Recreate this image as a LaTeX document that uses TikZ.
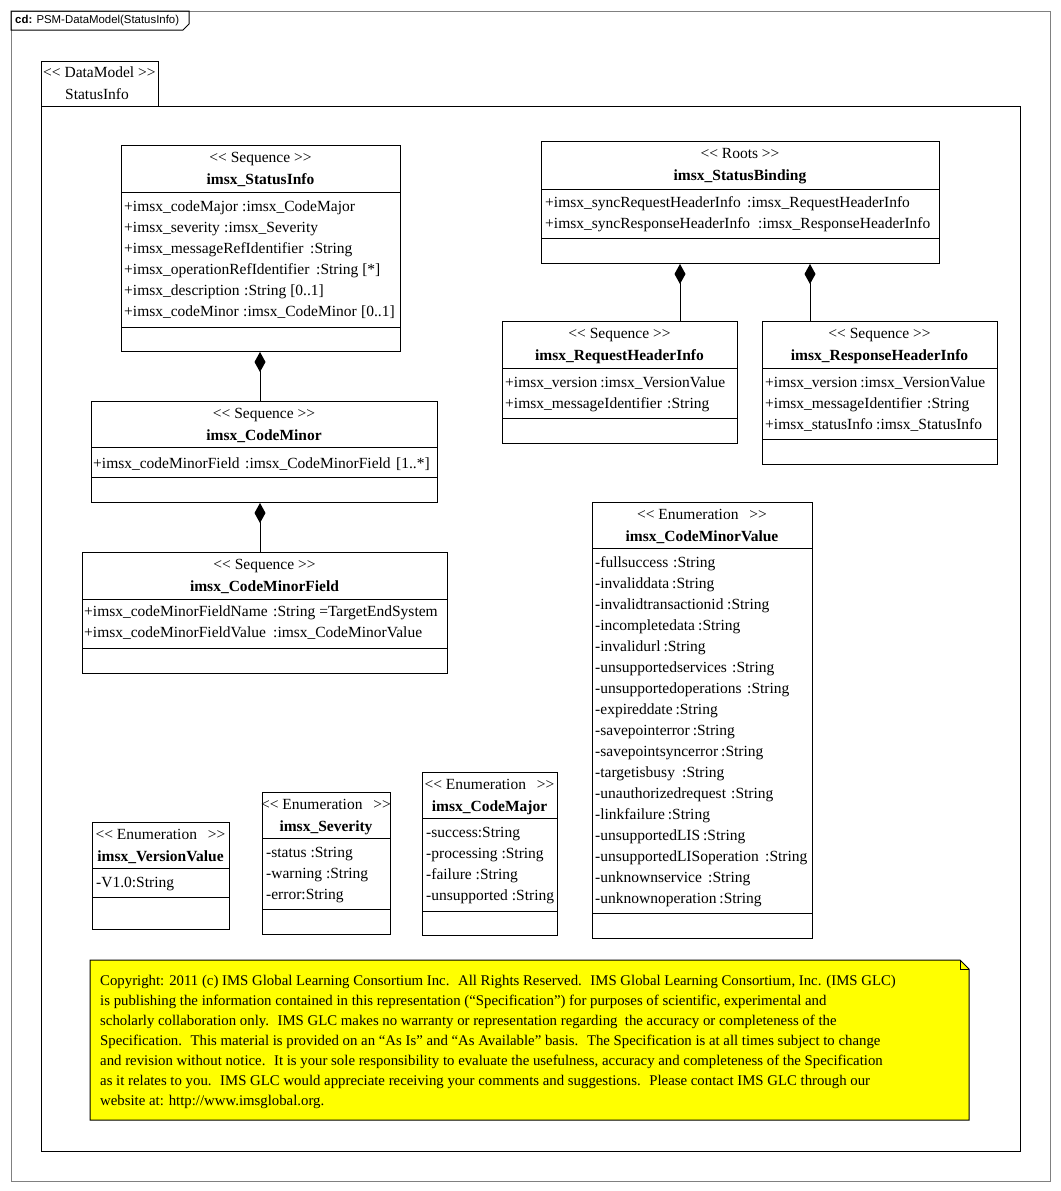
\documentclass[tikz,border=0pt]{standalone}
\usepackage{fontspec}
\setmainfont{Liberation Serif}
\newfontfamily\titlefont{Liberation Sans}
\usetikzlibrary{arrows.meta,calc}
\definecolor{framegray}{RGB}{128,128,128}
\definecolor{noteyellow}{RGB}{255,255,0}
\newcommand{\uf}{\fontsize{15.5}{18}\selectfont}
\newcommand{\nf}{\fontsize{14.8}{18}\selectfont}
\newcommand{\umlbox}[7]{%
  \node[cls, minimum width={#4-#2}, minimum height={#5-#3}] (#1) at (#2,#3) {};
  \draw[ln] (#2,#6) -- (#4,#6);
  \draw[ln] (#2,#7) -- (#4,#7);
}
\newcommand{\umlhead}[5]{%
  \node[hdc] (#1-st) at (#2,#3+12) {#4};
  \node[hdb] (#1-nm) at (#2,#3+34) {#5};
}
% attribute line: name, x, y, text, x of type, type
\newcommand{\attr}[6]{%
  \node[att] (#1-a) at (#2,#3) {#4};
  \path let \p1=(#1-a.east) in node[att] (#1-t) at ({max(#5,\x1+2.5)},#3) {#6};
}
\newcommand{\seqst}{<{}< Sequence >{}>}
\newcommand{\enumst}{<{}< Enumeration\hspace{7pt} >{}>}
\tikzset{
  ln/.style={line width=1pt},
  cls/.style={draw, line width=1pt, inner sep=0pt, anchor=north west, fill=white},
  tx/.style={inner sep=0pt, font=\uf, text height=14pt, text depth=3pt},
  att/.style={tx, anchor=west},
  hdc/.style={tx, anchor=center},
  hdb/.style={tx, anchor=center, font=\uf\bfseries},
  comp/.style={line width=1pt, -{Diamond[length=20pt,width=11pt]}},
}
\begin{document}
\begin{tikzpicture}[x=1pt,y=-1pt]
\useasboundingbox (0,0) rectangle (1060,1191);
\fill[white] (0,0) rectangle (1060,1191);

% outer frame and title tab
\node[draw=framegray, line width=1pt, inner sep=0pt, anchor=north west,
      minimum width=1039, minimum height=1170] (frame) at (11,11) {};
\draw[ln] (11,11) -- (189,11) -- (189,24) -- (183,30) -- (11,30) -- cycle;
\node[anchor=west, inner sep=0pt, font=\titlefont\fontsize{11.4}{13}\selectfont]
  (title) at (15,20.5) {\textbf{cd:} PSM-DataModel(StatusInfo)};

% package
\node[cls, minimum width=117, minimum height=45] (pkgtab) at (41,61) {};
\node[cls, minimum width=979, minimum height=1045] (pkg) at (41,106) {};
\node[att] (pkg-st) at (43,72) {<{}< DataModel >{}>};
\node[hdc] (pkg-nm) at (97,94) {StatusInfo};

% imsx_StatusInfo
\umlbox{si}{121}{145}{400}{351}{192}{327}
\umlhead{si}{260.5}{145}{\seqst}{imsx\_StatusInfo}
\attr{si1}{124}{206}{+imsx\_codeMajor}{242}{:imsx\_CodeMajor}
\attr{si2}{124}{227}{+imsx\_severity}{224}{:imsx\_Severity}
\attr{si3}{124}{248}{+imsx\_messageRefIdentifier}{310}{:String}
\attr{si4}{124}{269}{+imsx\_operationRefIdentifier}{316}{:String [*]}
\attr{si5}{124}{290}{+imsx\_description}{244}{:String [0..1]}
\attr{si6}{124}{311}{+imsx\_codeMinor}{243}{:imsx\_CodeMinor}
\node[att] (si6-m) at (361,311) {[0..1]};

% imsx_StatusBinding
\umlbox{sb}{541}{141}{939}{263}{189}{238}
\umlhead{sb}{740}{141}{<{}< Roots >{}>}{imsx\_StatusBinding}
\attr{sb1}{545}{202}{+imsx\_syncRequestHeaderInfo}{747}{:imsx\_RequestHeaderInfo}
\attr{sb2}{545}{223}{+imsx\_syncResponseHeaderInfo}{758}{:imsx\_ResponseHeaderInfo}

% imsx_RequestHeaderInfo
\umlbox{rq}{502}{321}{737}{443}{368}{418}
\umlhead{rq}{619.5}{321}{\seqst}{imsx\_RequestHeaderInfo}
\attr{rq1}{505}{382}{+imsx\_version}{600}{:imsx\_VersionValue}
\attr{rq2}{505}{403}{+imsx\_messageIdentifier}{667}{:String}

% imsx_ResponseHeaderInfo
\umlbox{rs}{762}{321}{997}{464}{368}{439}
\umlhead{rs}{879.5}{321}{\seqst}{imsx\_ResponseHeaderInfo}
\attr{rs1}{765}{382}{+imsx\_version}{860}{:imsx\_VersionValue}
\attr{rs2}{765}{403}{+imsx\_messageIdentifier}{927}{:String}
\attr{rs3}{765}{424}{+imsx\_statusInfo}{876}{:imsx\_StatusInfo}

% imsx_CodeMinor
\umlbox{cm}{91}{401}{437}{502}{447}{477}
\umlhead{cm}{264}{401}{\seqst}{imsx\_CodeMinor}
\attr{cm1}{93}{463}{+imsx\_codeMinorField}{245}{:imsx\_CodeMinorField}
\node[att] (cm1-m) at (396,463) {[1..*]};

% imsx_CodeMinorField
\umlbox{cmf}{82}{552}{447}{673}{599}{648}
\umlhead{cmf}{264.5}{552}{\seqst}{imsx\_CodeMinorField}
\attr{cmf1}{84}{611}{+imsx\_codeMinorFieldName}{273}{:String =TargetEndSystem}
\attr{cmf2}{84}{632}{+imsx\_codeMinorFieldValue}{273}{:imsx\_CodeMinorValue}

% imsx_CodeMinorValue
\umlbox{cmv}{592}{502}{812}{938}{548}{913}
\umlhead{cmv}{702}{502}{\enumst}{imsx\_CodeMinorValue}
\foreach \n/\c [count=\i from 0] in {fullsuccess/673, invaliddata/672,
  invalidtransactionid/727, incompletedata/698, invalidurl/663,
  unsupportedservices/732, unsupportedoperations/747, expireddate/674,
  savepointerror/692, savepointsyncerror/720, targetisbusy/682,
  unauthorizedrequest/731, linkfailure/666, unsupportedLIS/702,
  unsupportedLISoperation/765, unknownservice/708, unknownoperation/719} {
  \attr{cmv\i}{595}{562+21*\i}{-\n}{\c}{:String}
}

% imsx_VersionValue
\umlbox{vv}{92}{822}{229}{929}{868}{897}
\umlhead{vv}{160.5}{822}{\enumst}{imsx\_VersionValue}
\node[att] (vv1) at (96,882) {-V1.0:String};

% imsx_Severity
\umlbox{sv}{262}{792}{390}{934}{838}{909}
\umlhead{sv}{326}{792}{\enumst}{imsx\_Severity}
\node[att] (sv1) at (266,852) {-status :String};
\node[att] (sv2) at (266,873) {-warning :String};
\node[att] (sv3) at (266,894) {-error:String};

% imsx_CodeMajor
\umlbox{cj}{422}{772}{557}{935}{818}{911}
\umlhead{cj}{489.5}{772}{\enumst}{imsx\_CodeMajor}
\node[att] (cj1) at (426,832) {-success:String};
\node[att] (cj2) at (426,853) {-processing :String};
\node[att] (cj3) at (426,874) {-failure :String};
\node[att] (cj4) at (426,895) {-unsupported :String};

% composition connectors
\coordinate (x260) at (260,0);
\coordinate (x680) at (680,0);
\coordinate (x810) at (810,0);
\draw[comp] (cm.north -| x260) -- (si.south -| x260);
\draw[comp] (cmf.north -| x260) -- (cm.south -| x260);
\draw[comp] (rq.north -| x680) -- (sb.south -| x680);
\draw[comp] (rs.north -| x810) -- (sb.south -| x810);

% note
\filldraw[fill=noteyellow, draw=black, line width=1pt]
  (90,960) -- (960,960) -- (969,969) -- (969,1120) -- (90,1120) -- cycle;
\draw[ln] (960,960) -- (960,969) -- (969,969);
\foreach \t [count=\i from 0] in {
  {Copyright: 2011 (c) IMS Global Learning Consortium Inc.~ All Rights Reserved.~ IMS Global Learning Consortium, Inc. (IMS GLC)},
  {is publishing the information contained in this representation (“Specification”) for purposes of scientific, experimental and},
  {scholarly collaboration only.~ IMS GLC makes no warranty or representation regarding~ the accuracy or completeness of the},
  {Specification.~ This material is provided on an “As Is” and “As Available” basis.~ The Specification is at all times subject to change},
  {and revision without notice.~ It is your sole responsibility to evaluate the usefulness, accuracy and completeness of the Specification},
  {as it relates to you.~ IMS GLC would appreciate receiving your comments and suggestions.~ Please contact IMS GLC through our},
  {website at: http://www.imsglobal.org.}} {
  \node[att, font=\nf] (note-l\i) at (100,980+20*\i) {\t};
}
\end{tikzpicture}
\end{document}
